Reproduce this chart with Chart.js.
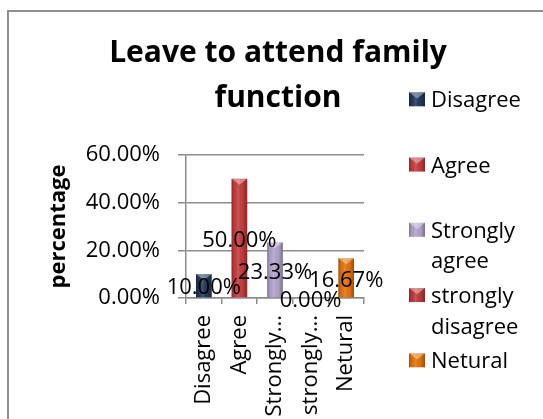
<!DOCTYPE html>
<html><head><meta charset="utf-8">
<script src="https://cdn.jsdelivr.net/npm/chart.js@4.4.1/dist/chart.umd.min.js"></script>
<style>html,body{margin:0;padding:0;background:#fff;}#wrap{position:relative;width:543px;height:419px;}</style>
</head><body><div id="wrap"><canvas id="c" width="543" height="419"></canvas></div>
<script>
// ---- data ----
const categories = ['Disagree', 'Agree', 'Strongly agree', 'strongly disagree', 'Netural'];
const xTickLabels = ['Disagree', 'Agree', 'Strongly...', 'strongly...', 'Netural'];
const values = [10.00, 50.00, 23.33, 0.00, 16.67];
const yTickValues = [0, 20, 40, 60];
const yTickLabels = ['0.00%', '20.00%', '40.00%', '60.00%'];
const seriesColors = ['#223A5C', '#C53C3E', '#B4A4CC', '#C0393C', '#E6730C'];
const titleLines = ['Leave to attend family', 'function'];
const yAxisTitle = 'percentage';

// ---- styling ----
const FONT = "'Open Sans', 'DejaVu Sans', sans-serif";
const GRID = '#8c8c8c';
Chart.defaults.font.family = FONT;
Chart.defaults.color = '#000';

const datasets = categories.map((name, i) => ({
  label: name,
  data: categories.map((_, j) => (j === i ? values[i] : null)),
  backgroundColor: seriesColors[i],
  borderWidth: 0,
  barPercentage: 0.44,
  categoryPercentage: 1.0,
  skipNull: true,
  yAxisID: 'y'
}));

function bevel(ctx, l, top, w, h) {
  const r = l + w;
  const g = ctx.createLinearGradient(l, 0, r, 0);
  g.addColorStop(0, 'rgba(0,0,0,0.30)');
  g.addColorStop(0.18, 'rgba(0,0,0,0.04)');
  g.addColorStop(0.42, 'rgba(255,255,255,0.14)');
  g.addColorStop(0.7, 'rgba(0,0,0,0.02)');
  g.addColorStop(1, 'rgba(0,0,0,0.32)');
  ctx.fillStyle = g;
  ctx.fillRect(l, top, w, h);
  const capH = Math.min(w * 0.38, h);
  ctx.beginPath();
  ctx.moveTo(l, top); ctx.lineTo(r, top); ctx.lineTo(l + w / 2, top + capH); ctx.closePath();
  ctx.fillStyle = 'rgba(255,255,255,0.38)';
  ctx.fill();
}

const framePlugin = {
  id: 'frame',
  beforeDraw(chart) {
    const ctx = chart.ctx;
    ctx.save();
    ctx.fillStyle = '#fff';
    ctx.fillRect(0, 0, chart.width, chart.height);
    ctx.strokeStyle = '#8f8f8f';
    ctx.lineWidth = 2;
    ctx.strokeRect(8, 11, 700, 700);
    ctx.restore();
  }
};

const barDecorPlugin = {
  id: 'barDecor',
  afterDatasetsDraw(chart) {
    const ctx = chart.ctx;
    ctx.save();
    chart.data.datasets.forEach((ds, di) => {
      const meta = chart.getDatasetMeta(di);
      meta.data.forEach((el, idx) => {
        const v = ds.data[idx];
        if (v === null || v === undefined) return;
        const p = el.getProps(['x', 'y', 'base', 'width'], true);
        const top = Math.min(p.y, p.base), bot = Math.max(p.y, p.base);
        if (bot - top > 0.5) bevel(ctx, p.x - p.width / 2, top, p.width, bot - top);
      });
    });
    ctx.font = '22px ' + FONT;
    ctx.fillStyle = '#000';
    ctx.textAlign = 'center';
    ctx.textBaseline = 'middle';
    chart.data.datasets.forEach((ds, di) => {
      const meta = chart.getDatasetMeta(di);
      meta.data.forEach((el, idx) => {
        const v = ds.data[idx];
        if (v === null || v === undefined) return;
        const p = el.getProps(['x', 'y', 'base'], true);
        ctx.fillText(v.toFixed(2) + '%', p.x, (p.y + p.base) / 2 + 2.5);
      });
    });
    ctx.restore();
  }
};

const legendPlugin = {
  id: 'sideLegend',
  afterDraw(chart) {
    const ctx = chart.ctx;
    const boxX = 409, boxW = 16, boxH = 14, textX = 431;
    const firstBaseline = 107.3, step = 65.25, lineGap = 30.5, maxW = 105;
    ctx.save();
    ctx.font = '22px ' + FONT;
    ctx.textAlign = 'left';
    ctx.textBaseline = 'alphabetic';
    chart.data.datasets.forEach((ds, i) => {
      const words = ds.label.split(' ');
      const lines = [];
      let cur = '';
      words.forEach(w => {
        const t = cur ? cur + ' ' + w : w;
        if (cur && ctx.measureText(t).width > maxW) { lines.push(cur); cur = w; } else cur = t;
      });
      if (cur) lines.push(cur);
      const base = firstBaseline + step * i;
      const top = base - 15;
      ctx.fillStyle = ds.backgroundColor;
      ctx.fillRect(boxX, top, boxW, boxH);
      bevel(ctx, boxX, top, boxW, boxH);
      ctx.fillStyle = '#000';
      lines.forEach((ln, k) => ctx.fillText(ln, textX, base + k * lineGap));
    });
    ctx.restore();
  }
};

new Chart(document.getElementById('c'), {
  type: 'bar',
  data: { labels: xTickLabels, datasets },
  plugins: [framePlugin, barDecorPlugin, legendPlugin],
  options: {
    responsive: false,
    animation: false,
    devicePixelRatio: 1,
    layout: { padding: { left: 13, right: 0, top: 0, bottom: 0 } },
    plugins: {
      legend: { display: false },
      tooltip: { enabled: false },
      title: {
        display: true,
        text: titleLines,
        color: '#000',
        font: { size: 30, weight: 'bold', lineHeight: 1.5 },
        padding: { top: 31, bottom: 34 }
      }
    },
    scales: {
      x: {
        grid: { display: true, drawOnChartArea: false, drawTicks: true, tickLength: 6, color: GRID, lineWidth: 1.5, offset: true },
        border: { display: true, color: GRID, width: 1.5 },
        ticks: { maxRotation: 90, minRotation: 90, autoSkip: false, padding: 11, font: { size: 22 }, color: '#000' },
        afterFit: s => { s.height = 121; }
      },
      y: {
        type: 'linear',
        position: 'left',
        min: 0,
        max: 60,
        afterBuildTicks: s => { s.ticks = yTickValues.map(v => ({ value: v })); },
        ticks: {
          padding: 18,
          font: { size: 22 },
          color: '#000',
          callback: v => yTickLabels[yTickValues.indexOf(v)]
        },
        grid: { color: GRID, lineWidth: 1.5, tickLength: 8 },
        border: { display: true, color: GRID, width: 1.5 },
        title: { display: true, text: yAxisTitle, color: '#000', font: { size: 22, weight: 'bold' }, padding: { top: 33, bottom: 0 } },
        afterFit: s => { s.width = 173; }
      },
      yR: {
        type: 'linear',
        axis: 'y',
        position: 'right',
        display: true,
        grid: { display: false },
        border: { display: false },
        ticks: { display: false },
        afterFit: s => { s.width = 179; }
      }
    }
  }
});
</script>
</body></html>
